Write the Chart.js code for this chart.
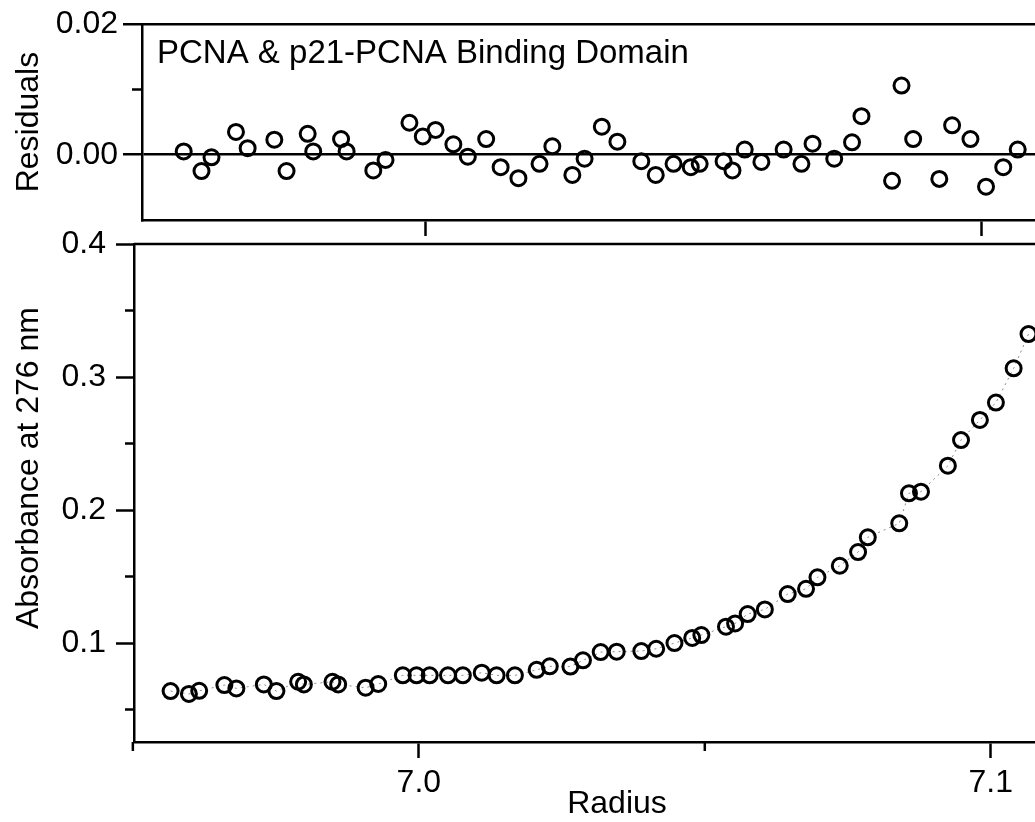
<!DOCTYPE html>
<html>
<head>
<meta charset="utf-8">
<script src="https://cdn.jsdelivr.net/npm/chart.js@4.4.1/dist/chart.umd.min.js"></script>
<style>
  html, body { margin: 0; padding: 0; background: #fff; overflow: hidden; }
  canvas { position: absolute; left: 0; top: 0; }
</style>
</head>
<body>
<canvas id="residChart" width="1100" height="250"></canvas>
<canvas id="absChart" width="1100" height="822"></canvas>
<script>
// radial positions (cm) of the scan
const radius = [
  6.9566, 6.9598, 6.9616, 6.9660, 6.9681, 6.9729, 6.9751, 6.9789, 6.9799, 6.9849,
  6.9859, 6.9907, 6.9929, 6.9972, 6.9996, 7.0019, 7.0051, 7.0077, 7.0110, 7.0136,
  7.0168, 7.0206, 7.0229, 7.0265, 7.0287, 7.0318, 7.0346, 7.0389, 7.0415, 7.0447,
  7.0478, 7.0494, 7.0537, 7.0553, 7.0575, 7.0605, 7.0645, 7.0677, 7.0697, 7.0736,
  7.0768, 7.0785, 7.0840, 7.0857, 7.0878, 7.0925, 7.0948, 7.0981, 7.1009, 7.1040,
  7.1066
];
const absorbance = [
  0.0639, 0.0617, 0.0641, 0.0684, 0.0659, 0.0689, 0.0639, 0.0709, 0.0689, 0.0709,
  0.0689, 0.0664, 0.0692, 0.0757, 0.0757, 0.0757, 0.0757, 0.0757, 0.0777, 0.0757,
  0.0757, 0.0799, 0.0825, 0.0823, 0.0870, 0.0932, 0.0935, 0.0940, 0.0957, 0.1000,
  0.1038, 0.1060, 0.1123, 0.1147, 0.1218, 0.1253, 0.1368, 0.1408, 0.1494, 0.1581,
  0.1684, 0.1795, 0.1900, 0.2126, 0.2138, 0.2333, 0.2526, 0.2677, 0.2808, 0.3065,
  0.3323
];
const residuals = [
  0.0005, -0.0025, -0.0004, 0.0035, 0.0010, 0.0023, -0.0025, 0.0032, 0.0005, 0.0024,
  0.0005, -0.0024, -0.0008, 0.0049, 0.0028, 0.0038, 0.0016, -0.0003, 0.0024, -0.0019,
  -0.0036, -0.0014, 0.0013, -0.0031, -0.0006, 0.0043, 0.0020, -0.0010, -0.0031, -0.0014,
  -0.0019, -0.0014, -0.0010, -0.0024, 0.0008, -0.0011, 0.0008, -0.0014, 0.0017, -0.0006,
  0.0019, 0.0059, -0.0040, 0.0106, 0.0024, -0.0037, 0.0045, 0.0024, -0.0049, -0.0019,
  0.0008
];

const radiusTicks = [7.0, 7.1];
const radiusMinor = [6.95, 7.05];
const residTicks = [0.0, 0.02];
const residMinor = [0.01];
const absTicks = [0.1, 0.2, 0.3, 0.4];
const absMinor = [0.05, 0.15, 0.25, 0.35];

Chart.defaults.font.family = '"Liberation Sans", Arial, Helvetica, sans-serif';
Chart.defaults.font.size = 32;
Chart.defaults.color = '#000';

const LINE = 2.5;

// box around the plotting area plus short minor ticks on both axes
const axesExtras = {
  id: 'axesExtras',
  afterDraw(chart, args, opts) {
    const { ctx, chartArea: a, scales } = chart;
    ctx.save();
    ctx.strokeStyle = '#000';
    ctx.lineWidth = LINE;
    ctx.beginPath();
    ctx.moveTo(a.left, a.top);
    ctx.lineTo(a.right, a.top);
    (opts.xMinor || []).forEach(v => {
      const px = scales.x.getPixelForValue(v);
      ctx.moveTo(px, a.bottom);
      ctx.lineTo(px, a.bottom + opts.minorLength);
    });
    (opts.yMinor || []).forEach(v => {
      const py = scales.y.getPixelForValue(v);
      ctx.moveTo(a.left - opts.minorLength, py);
      ctx.lineTo(a.left, py);
    });
    ctx.stroke();
    if (opts.caption) {
      ctx.fillStyle = '#000';
      ctx.font = '33px "Liberation Sans", Arial, sans-serif';
      ctx.textBaseline = 'alphabetic';
      ctx.fillText(opts.caption, a.left + 15, a.top + 39);
    }
    if (opts.sideTitle) {
      ctx.translate(opts.sideTitle.x, opts.sideTitle.y);
      ctx.rotate(-Math.PI / 2);
      ctx.fillStyle = '#000';
      ctx.font = '32px "Liberation Sans", Arial, sans-serif';
      ctx.textAlign = 'center';
      ctx.textBaseline = 'middle';
      ctx.fillText(opts.sideTitle.text, 0, 0);
    }
    ctx.restore();
  }
};

const fixedTicks = list => scale => { scale.ticks = list.map(v => ({ value: v })); };

const marker = {
  pointRadius: 7.5,
  pointBorderWidth: 3,
  pointBorderColor: '#000',
  pointBackgroundColor: 'rgba(0,0,0,0)',
  clip: false
};

// residuals of the fit
new Chart(document.getElementById('residChart'), {
  type: 'scatter',
  data: {
    datasets: [{
      data: radius.map((r, i) => ({ x: r, y: residuals[i] })),
      ...marker
    }]
  },
  options: {
    responsive: false,
    animation: false,
    layout: { autoPadding: false, padding: { top: 22, left: 0, right: 0, bottom: 0 } },
    plugins: {
      legend: { display: false },
      tooltip: { enabled: false },
      axesExtras: { yMinor: residMinor, minorLength: 10, caption: 'PCNA & p21-PCNA Binding Domain' }
    },
    scales: {
      x: {
        type: 'linear',
        min: 6.9491,
        max: 7.1214,
        afterBuildTicks: fixedTicks(radiusTicks),
        afterFit: s => { s.height = 30; },
        ticks: { display: false },
        grid: { drawOnChartArea: false, tickLength: 16, tickWidth: LINE, tickColor: '#000' },
        border: { color: '#000', width: LINE }
      },
      y: {
        min: -0.01,
        max: 0.02,
        afterBuildTicks: fixedTicks(residTicks),
        afterFit: s => { s.width = 142; },
        ticks: { padding: 5, callback: v => v.toFixed(2) },
        grid: {
          color: c => (c.tick && c.tick.value === 0 ? '#000' : 'rgba(0,0,0,0)'),
          lineWidth: LINE,
          tickColor: '#000',
          tickWidth: LINE,
          tickLength: 19
        },
        border: { color: '#000', width: LINE },
        title: { display: true, text: 'Residuals', padding: { top: 10, bottom: 0 } }
      }
    }
  },
  plugins: [axesExtras]
});

// absorbance scan with the fitted curve
new Chart(document.getElementById('absChart'), {
  type: 'scatter',
  data: {
    datasets: [{
      data: radius.map((r, i) => ({ x: r, y: absorbance[i] })),
      showLine: true,
      borderColor: '#8a8a8a',
      borderWidth: 1,
      borderDash: [2, 4],
      ...marker
    }]
  },
  options: {
    responsive: false,
    animation: false,
    layout: { autoPadding: false, padding: { top: 244, left: 0, right: 0, bottom: 0 } },
    plugins: {
      legend: { display: false },
      tooltip: { enabled: false },
      axesExtras: {
        xMinor: radiusMinor,
        yMinor: absMinor,
        minorLength: 9,
        sideTitle: { text: 'Absorbance at 276 nm', x: 29, y: 468 }
      }
    },
    scales: {
      x: {
        type: 'linear',
        min: 6.9502,
        max: 7.1191,
        afterBuildTicks: fixedTicks(radiusTicks),
        afterFit: s => { s.height = 80; },
        ticks: { padding: 6, callback: v => v.toFixed(1) },
        grid: { drawOnChartArea: false, tickLength: 16, tickWidth: LINE, tickColor: '#000' },
        border: { color: '#000', width: LINE },
        title: { display: true, text: 'Radius', font: { lineHeight: 1.1 }, padding: { top: 0, bottom: 0 } }
      },
      y: {
        min: 0.0256,
        max: 0.4,
        afterBuildTicks: fixedTicks(absTicks),
        afterFit: s => { s.width = 134; },
        ticks: { padding: 10, callback: v => v.toFixed(1) },
        grid: { drawOnChartArea: false, tickLength: 18, tickWidth: LINE, tickColor: '#000' },
        border: { color: '#000', width: LINE }
      }
    }
  },
  plugins: [axesExtras]
});
</script>
</body>
</html>
